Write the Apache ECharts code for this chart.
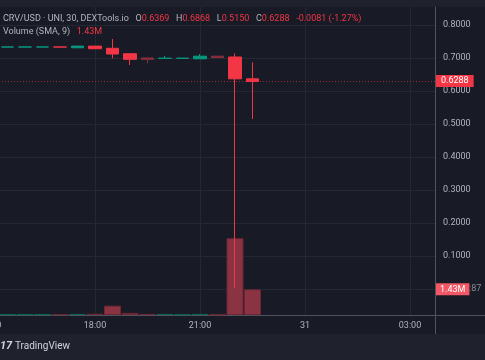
<!DOCTYPE html>
<html><head><meta charset="utf-8">
<script src="https://cdn.jsdelivr.net/npm/echarts@6/dist/echarts.min.js"></script>
<style>html,body{margin:0;padding:0;background:#181a25;}#c{width:485px;height:360px;}</style>
</head><body><div id="c"></div>
<script>
// ---- data ----
const times  = ['15:30','16:00','16:30','17:00','17:30','18:00','18:30','19:00','19:30','20:00','20:30','21:00','21:30','22:00','22:30'];
const opens  = [0.7332,0.7332,0.7333,0.7335,0.7310,0.7360,0.7294,0.7130,0.7000,0.6988,0.6989,0.6975,0.7055,0.7030,0.6369];
const closes = [0.7334,0.7334,0.7335,0.7331,0.7360,0.7280,0.7121,0.6960,0.6960,0.6994,0.6995,0.7055,0.7015,0.6369,0.6288];
const lows   = [0.7330,0.7330,0.7331,0.7329,0.7305,0.7275,0.6991,0.6788,0.6840,0.6985,0.6987,0.6970,0.7010,0.0030,0.5150];
const highs  = [0.7336,0.7336,0.7337,0.7337,0.7365,0.7365,0.7576,0.7140,0.7005,0.7060,0.6998,0.7120,0.7060,0.7140,0.6868];
const volumes= [0.04,0.04,0.04,0.04,0.05,0.07,0.52,0.12,0.06,0.05,0.03,0.06,0.03,4.27,1.43]; // millions
const tickHours  = [15,18,21,24,27];
const tickLabels = ['15:00','18:00','21:00','31','03:00'];
const priceTicks = [0,0.1,0.2,0.3,0.4,0.5,0.6,0.7,0.8];
const lastPrice = 0.6288;
const lastVolume = 1.43;

// ---- styles ----
const UP='#089981', DOWN='#f23645', DIM='#8a2f3d';
const dimTimes = new Set(['19:30','21:30']);
const toH = t => { const [h,m]=t.split(':').map(Number); return h + m/60; };
const xMin = 15, xMax = 15 + 445/35;
const FONT = 'Roboto, sans-serif';

const candleData = times.map((t,i)=>{
  const item = {value:[toH(t), opens[i], closes[i], lows[i], highs[i]]};
  if (dimTimes.has(t)) item.itemStyle = {color:DIM,color0:DIM,borderColor:DIM,borderColor0:DIM};
  return item;
});
const volData = times.map((t,i)=>({
  value:[toH(t), volumes[i]*1e6],
  itemStyle: closes[i]>=opens[i]
    ? {color:'rgba(8,153,129,0.5)', borderColor:'rgba(8,120,100,0.6)'}
    : {color:'#8a3343', borderColor:'#6c2634'}
}));

const chart = echarts.init(document.getElementById('c'), null, {renderer:'canvas'});
const gridColor = '#242734';
const g = (top,bottom)=>({left:-10, right:50, top, bottom, containLabel:false, outerBoundsMode:'none'});
chart.setOption({
  backgroundColor:'#181a25',
  animation:false,
  grid:[g(7,45), g(25,71), g(215,45)],
  xAxis:[
    {type:'value', gridIndex:0, min:xMin, max:xMax, interval:3,
      axisLine:{show:true, onZero:false, lineStyle:{color:'#50535e'}}, axisTick:{show:false},
      axisLabel:{color:'#b2b5be', fontSize:9, fontFamily:FONT, margin:6, hideOverlap:false,
        formatter:v=>{const k=tickHours.indexOf(Math.round(v)); return k>=0?tickLabels[k]:'';}},
      splitLine:{show:true, lineStyle:{color:gridColor}}},
    {type:'value', gridIndex:1, min:xMin, max:xMax, show:false},
    {type:'value', gridIndex:2, min:xMin, max:xMax, show:false}
  ],
  yAxis:[
    {type:'value', gridIndex:0, min:0, max:1, position:'right',
      axisLine:{show:true, lineStyle:{color:'#50535e'}}, axisTick:{show:false}, axisLabel:{show:false}, splitLine:{show:false}},
    {type:'value', gridIndex:1, min:priceTicks[0], max:priceTicks[priceTicks.length-1], interval:0.1, position:'right',
      axisLine:{show:false}, axisTick:{show:false},
      axisLabel:{color:'#b2b5be', fontSize:9, fontFamily:FONT, margin:8, align:'left',
        formatter:v=> v<0.05 ? '' : v.toFixed(4)},
      splitLine:{show:true, lineStyle:{color:gridColor}}},
    {type:'value', gridIndex:2, min:0, max:5.56e6, show:false}
  ],
  series:[
    {type:'bar', xAxisIndex:2, yAxisIndex:2, data:volData, barWidth:17, z:2,
      itemStyle:{borderWidth:1},
      markLine:{silent:true, symbol:'none', data:[{yAxis:lastVolume*1e6}],
        lineStyle:{color:'rgba(0,0,0,0)', width:0},
        label:{show:true, position:'end', distance:1, formatter:()=>lastVolume.toFixed(2)+'M', color:'#fff',
          backgroundColor:'#f25766', padding:[2,4,1,4], fontSize:9, fontFamily:FONT}}},
    {type:'candlestick', xAxisIndex:1, yAxisIndex:1, data:candleData, barWidth:13, z:5,
      encode:{x:0, y:[1,2,3,4]},
      itemStyle:{color:UP, color0:DOWN, borderColor:UP, borderColor0:DOWN, borderWidth:1},
      markLine:{silent:true, symbol:'none', data:[{yAxis:lastPrice}],
        lineStyle:{color:'rgba(242,54,69,0.6)', type:[1,2], width:1},
        label:{position:'end', distance:1, formatter:()=>lastPrice.toFixed(4), color:'#fff',
          backgroundColor:DOWN, padding:[2,5,1,5], fontSize:9, fontFamily:FONT}}}
  ],
  graphic:[
    {type:'rect', left:0, top:0, shape:{width:485, height:7}, style:{fill:'#1f222d'}, z:0},
    {type:'rect', left:0, top:334, shape:{width:485, height:26}, style:{fill:'#1f222d'}, z:0},
    {type:'line', shape:{x1:435.5, y1:315, x2:435.5, y2:334}, style:{stroke:'#50535e', lineWidth:1}},
    {type:'line', shape:{x1:435, y1:315.5, x2:485, y2:315.5}, style:{stroke:'#50535e', lineWidth:1}},
    {type:'text', left:469, top:284, style:{text:':87', fill:'#8a8d96', font:'9px '+FONT}, z:1},
    {type:'text', left:3, top:13, z:10, style:{
      text:'{a|CRV/USD · UNI, 30, DEXTools.io}  {a|O}{r|'+opens[opens.length-1].toFixed(4)+'}  {a|H}{r|'+highs[highs.length-1].toFixed(4)+'}  {a|L}{r|'+lows[lows.length-1].toFixed(4)+'}  {a|C}{r|'+closes[closes.length-1].toFixed(4)+'}  {r|-0.0081 (-1.27%)}',
      rich:{a:{fill:'#b2b5be', font:'9px '+FONT}, r:{fill:DOWN, font:'9px '+FONT}}}},
    {type:'text', left:3, top:26, z:10, style:{
      text:'{a|Volume (SMA, 9)}  {r|'+lastVolume.toFixed(2)+'M}',
      rich:{a:{fill:'#b2b5be', font:'9px '+FONT}, r:{fill:DOWN, font:'9px '+FONT}}}},
    {type:'text', left:0, top:341, z:10, style:{text:'17', fill:'#d1d4dc', font:'italic bold 11px '+FONT}},
    {type:'text', left:15, top:341, z:10, style:{text:'TradingView', fill:'#d1d4dc', font:'10px '+FONT}}
  ]
});
</script></body></html>
